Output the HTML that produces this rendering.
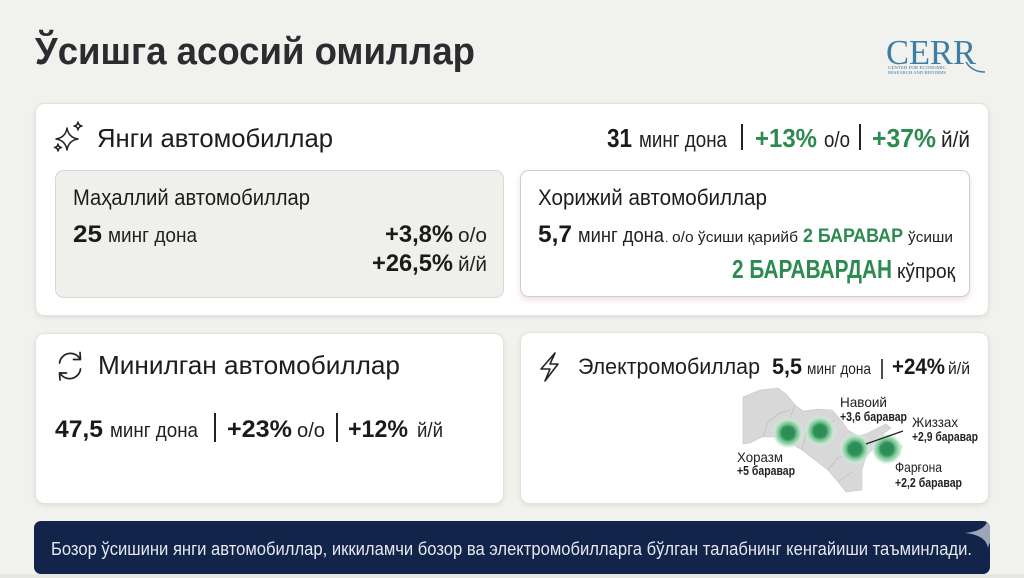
<!DOCTYPE html>
<html><head><meta charset="utf-8">
<style>
html,body{margin:0;padding:0;background:#f1f1ed;}
svg{display:block;}
text{font-family:"Liberation Sans","Noto Sans CJK SC",sans-serif;}
</style></head>
<body>
<svg width="1024" height="578" viewBox="0 0 1024 578" xmlns="http://www.w3.org/2000/svg">
<defs>
<filter id="sh" x="-5%" y="-10%" width="110%" height="125%">
<feDropShadow dx="0" dy="1.5" stdDeviation="2" flood-color="#000" flood-opacity="0.09"/>
</filter>
<filter id="sh2" x="-5%" y="-10%" width="110%" height="130%">
<feDropShadow dx="0" dy="3" stdDeviation="3" flood-color="#c07060" flood-opacity="0.22"/>
</filter>
<radialGradient id="dot">
<stop offset="0" stop-color="#2a8a55"/>
<stop offset="0.4" stop-color="#2f9058"/>
<stop offset="0.55" stop-color="#6cc08c"/>
<stop offset="0.78" stop-color="#b8e2c6"/>
<stop offset="1" stop-color="#e6f4ea" stop-opacity="0"/>
</radialGradient>
<clipPath id="bclip"><rect x="34" y="521" width="956" height="53" rx="7"/></clipPath>
</defs>

<rect x="0" y="0" width="1024" height="578" fill="#f1f1ed"/>

<!-- Title -->
<text x="35" y="64" font-size="38" font-weight="bold" fill="#2b2b30" textLength="440" lengthAdjust="spacingAndGlyphs">Ўсишга асосий омиллар</text>

<!-- CERR logo -->
<text x="886" y="64" style="font-family:'Liberation Serif',serif" font-size="35" fill="#3d7ea6" textLength="90" lengthAdjust="spacingAndGlyphs">CERR</text>
<path d="M966,62 Q972,72 985,72" stroke="#3d7ea6" stroke-width="1.5" fill="none"/>
<text x="888" y="69" font-size="4.5" fill="#3d7ea6" textLength="58" lengthAdjust="spacingAndGlyphs" style="font-family:'Liberation Serif',serif">CENTER FOR ECONOMIC</text>
<text x="888" y="74" font-size="4.5" fill="#3d7ea6" textLength="58" lengthAdjust="spacingAndGlyphs" style="font-family:'Liberation Serif',serif">RESEARCH AND REFORMS</text>

<!-- Top card -->
<rect x="35.5" y="103.5" width="953" height="212" rx="9" fill="#fff" stroke="#e2e2de" filter="url(#sh)"/>
<g stroke="#222" stroke-width="1.5" fill="none" stroke-linejoin="round">
<path d="M67,128 Q68.5,137.5 78,139 Q68.5,140.5 67,150 Q65.5,140.5 56,139 Q65.5,137.5 67,128 Z"/>
<path d="M78,122 Q78.5,125.5 82,126 Q78.5,126.5 78,130 Q77.5,126.5 74,126 Q77.5,125.5 78,122 Z"/>
<path d="M58,144 Q58.4,147.1 61.5,147.5 Q58.4,147.9 58,151 Q57.6,147.9 54.5,147.5 Q57.6,147.1 58,144 Z"/>
</g>
<text x="97" y="147" font-size="26" fill="#1d1d1d" textLength="236" lengthAdjust="spacingAndGlyphs">Янги автомобиллар</text>

<text x="607" y="147" font-size="26" font-weight="bold" fill="#1a1a1a" textLength="25" lengthAdjust="spacingAndGlyphs">31</text>
<text x="639" y="147" font-size="22" fill="#222" textLength="88" lengthAdjust="spacingAndGlyphs">минг дона</text>
<line x1="742" y1="124" x2="742" y2="150" stroke="#222" stroke-width="2"/>
<text x="755" y="147" font-size="26" font-weight="bold" fill="#2d8a50" textLength="62" lengthAdjust="spacingAndGlyphs">+13%</text>
<text x="824" y="147" font-size="22" fill="#222" textLength="26" lengthAdjust="spacingAndGlyphs">о/о</text>
<line x1="860" y1="124" x2="860" y2="150" stroke="#222" stroke-width="2"/>
<text x="872" y="147" font-size="26" font-weight="bold" fill="#2d8a50" textLength="64" lengthAdjust="spacingAndGlyphs">+37%</text>
<text x="941" y="147" font-size="22" fill="#222" textLength="29" lengthAdjust="spacingAndGlyphs">й/й</text>

<!-- Inner left card -->
<rect x="55.5" y="170.5" width="448" height="127" rx="8" fill="#efefeb" stroke="#d8d8d4"/>
<text x="73" y="205" font-size="22" fill="#1d1d1d" textLength="237" lengthAdjust="spacingAndGlyphs">Маҳаллий автомобиллар</text>
<text x="73" y="242" font-size="24" font-weight="bold" fill="#1a1a1a" textLength="29" lengthAdjust="spacingAndGlyphs">25</text>
<text x="108" y="242" font-size="20" fill="#222" textLength="89" lengthAdjust="spacingAndGlyphs">минг дона</text>
<text x="385" y="242" font-size="24" font-weight="bold" fill="#1a1a1a" textLength="68" lengthAdjust="spacingAndGlyphs">+3,8%</text>
<text x="458" y="242" font-size="20" fill="#222" textLength="29" lengthAdjust="spacingAndGlyphs">о/о</text>
<text x="372" y="271" font-size="24" font-weight="bold" fill="#1a1a1a" textLength="81" lengthAdjust="spacingAndGlyphs">+26,5%</text>
<text x="458" y="271" font-size="20" fill="#222" textLength="29" lengthAdjust="spacingAndGlyphs">й/й</text>

<!-- Inner right card -->
<rect x="520.5" y="170.5" width="449" height="126" rx="8" fill="#fff" stroke="#cdcdcd" filter="url(#sh2)"/>
<text x="538" y="205" font-size="22" fill="#1d1d1d" textLength="229" lengthAdjust="spacingAndGlyphs">Хорижий автомобиллар</text>
<text x="538" y="242" font-size="24" font-weight="bold" fill="#1a1a1a" textLength="34" lengthAdjust="spacingAndGlyphs">5,7</text>
<text x="578" y="242" font-size="20" fill="#222" textLength="86" lengthAdjust="spacingAndGlyphs">минг дона</text>
<text x="665" y="242" font-size="12" fill="#222">.</text>
<text x="672" y="242" font-size="15" fill="#222" textLength="126" lengthAdjust="spacingAndGlyphs">о/о ўсиши қарийб</text>
<text x="803" y="242" font-size="19" font-weight="bold" fill="#2d8a50" textLength="100" lengthAdjust="spacingAndGlyphs">2 БАРАВАР</text>
<text x="908" y="242" font-size="15" fill="#222" textLength="45" lengthAdjust="spacingAndGlyphs">ўсиши</text>
<text x="732" y="278" font-size="26" font-weight="bold" fill="#2d8a50" textLength="160" lengthAdjust="spacingAndGlyphs">2 БАРАВАРДАН</text>
<text x="897" y="278" font-size="20" fill="#222" textLength="58" lengthAdjust="spacingAndGlyphs">кўпроқ</text>

<!-- Bottom-left card -->
<rect x="35.5" y="333.5" width="468" height="170" rx="9" fill="#fff" stroke="#e2e2de" filter="url(#sh)"/>
<g stroke="#222" stroke-width="1.7" fill="none" stroke-linecap="round" stroke-linejoin="round">
<path d="M59.5,363 A11,11 0 0 1 80,359"/>
<path d="M80,352.5 L80.5,359.5 L73.5,359.5"/>
<path d="M80.5,369 A11,11 0 0 1 60,373"/>
<path d="M60,380 L59.5,373 L66.5,373"/>
</g>
<text x="98" y="374" font-size="26" fill="#1d1d1d" textLength="302" lengthAdjust="spacingAndGlyphs">Минилган автомобиллар</text>
<text x="55" y="437" font-size="24" font-weight="bold" fill="#1a1a1a" textLength="48" lengthAdjust="spacingAndGlyphs">47,5</text>
<text x="110" y="437" font-size="20" fill="#222" textLength="88" lengthAdjust="spacingAndGlyphs">минг дона</text>
<line x1="215" y1="413" x2="215" y2="442" stroke="#222" stroke-width="2"/>
<text x="227" y="437" font-size="24" font-weight="bold" fill="#1a1a1a" textLength="65" lengthAdjust="spacingAndGlyphs">+23%</text>
<text x="297" y="437" font-size="20" fill="#222" textLength="28" lengthAdjust="spacingAndGlyphs">о/о</text>
<line x1="337" y1="413" x2="337" y2="442" stroke="#222" stroke-width="2"/>
<text x="348" y="437" font-size="24" font-weight="bold" fill="#1a1a1a" textLength="60" lengthAdjust="spacingAndGlyphs">+12%</text>
<text x="417" y="437" font-size="20" fill="#222" textLength="26" lengthAdjust="spacingAndGlyphs">й/й</text>

<!-- Bottom-right card -->
<rect x="520.5" y="332.5" width="468" height="171" rx="9" fill="#fff" stroke="#e2e2de" filter="url(#sh)"/>
<path d="M555,353 L541,369 L550,369 L545,381 L558,364 L550,364 Z" stroke="#222" stroke-width="1.6" fill="none" stroke-linejoin="round"/>
<text x="578" y="374" font-size="22" fill="#1d1d1d" textLength="182" lengthAdjust="spacingAndGlyphs">Электромобиллар</text>
<text x="772" y="374" font-size="22" font-weight="bold" fill="#1a1a1a" textLength="30" lengthAdjust="spacingAndGlyphs">5,5</text>
<text x="807" y="374" font-size="16" fill="#222" textLength="64" lengthAdjust="spacingAndGlyphs">минг дона</text>
<line x1="882" y1="359" x2="882" y2="379" stroke="#222" stroke-width="1.6"/>
<text x="892" y="374" font-size="22" font-weight="bold" fill="#1a1a1a" textLength="53" lengthAdjust="spacingAndGlyphs">+24%</text>
<text x="948" y="374" font-size="17" fill="#222" textLength="22" lengthAdjust="spacingAndGlyphs">й/й</text>

<!-- Map -->
<path d="M743,397 L760,390 L778,388 L786,394 L795,405 L803,411 L818,409 L832,410 L840,419 L848,430 L858,436 L866,434 L876,429 L886,424 L891,428 L883,434 L881,440 L893,440 L902,446 L899,455 L885,455 L873,449 L866,456 L862,470 L862,490 L846,492 L838,482 L828,470 L815,460 L802,450 L790,443 L775,437 L762,437 L750,443 L743,444 Z" fill="#d8d8d8" stroke="#c8c8c8" stroke-width="0.6"/>
<path d="M763,437 L768,422 L780,413 L790,410 M802,450 L806,434 L822,428 L835,420 M828,470 L838,458 L852,455 M838,482 L852,472 M795,405 L790,418" stroke="#bdbdbd" stroke-width="0.7" fill="none"/>

<circle cx="788" cy="433" r="16" fill="url(#dot)"/>
<circle cx="820" cy="431" r="16" fill="url(#dot)"/>
<circle cx="855" cy="449" r="16" fill="url(#dot)"/>
<circle cx="887" cy="449" r="16" fill="url(#dot)"/>
<line x1="866" y1="444" x2="903" y2="431" stroke="#222" stroke-width="1.3"/>

<text x="840" y="407" font-size="14" fill="#222" textLength="47" lengthAdjust="spacingAndGlyphs">Навоий</text>
<text x="840" y="421" font-size="12.5" font-weight="bold" fill="#222" textLength="67" lengthAdjust="spacingAndGlyphs">+3,6 баравар</text>
<text x="912" y="427" font-size="14" fill="#222" textLength="46" lengthAdjust="spacingAndGlyphs">Жиззах</text>
<text x="912" y="441" font-size="12.5" font-weight="bold" fill="#222" textLength="66" lengthAdjust="spacingAndGlyphs">+2,9 баравар</text>
<text x="737" y="462" font-size="14" fill="#222" textLength="46" lengthAdjust="spacingAndGlyphs">Хоразм</text>
<text x="737" y="475" font-size="12.5" font-weight="bold" fill="#222" textLength="58" lengthAdjust="spacingAndGlyphs">+5 баравар</text>
<text x="895" y="472" font-size="14" fill="#222" textLength="47" lengthAdjust="spacingAndGlyphs">Фарғона</text>
<text x="895" y="487" font-size="12.5" font-weight="bold" fill="#222" textLength="67" lengthAdjust="spacingAndGlyphs">+2,2 баравар</text>

<!-- Banner -->
<rect x="34" y="521" width="956" height="53" rx="7" fill="#13244a"/>
<g clip-path="url(#bclip)">
<path d="M988,519 Q990,531 1011,533 Q990,535 988,548 Q986,535 965,533 Q986,531 988,519 Z" fill="#9ba5b8"/>
</g>
<text x="51" y="555" font-size="18" fill="#e4e7ee" textLength="921" lengthAdjust="spacingAndGlyphs">Бозор ўсишини янги автомобиллар, иккиламчи бозор ва электромобилларга бўлган талабнинг кенгайиши таъминлади.</text>
<rect x="0" y="574" width="1024" height="4" fill="#e7e7e5"/>
</svg>
</body></html>
